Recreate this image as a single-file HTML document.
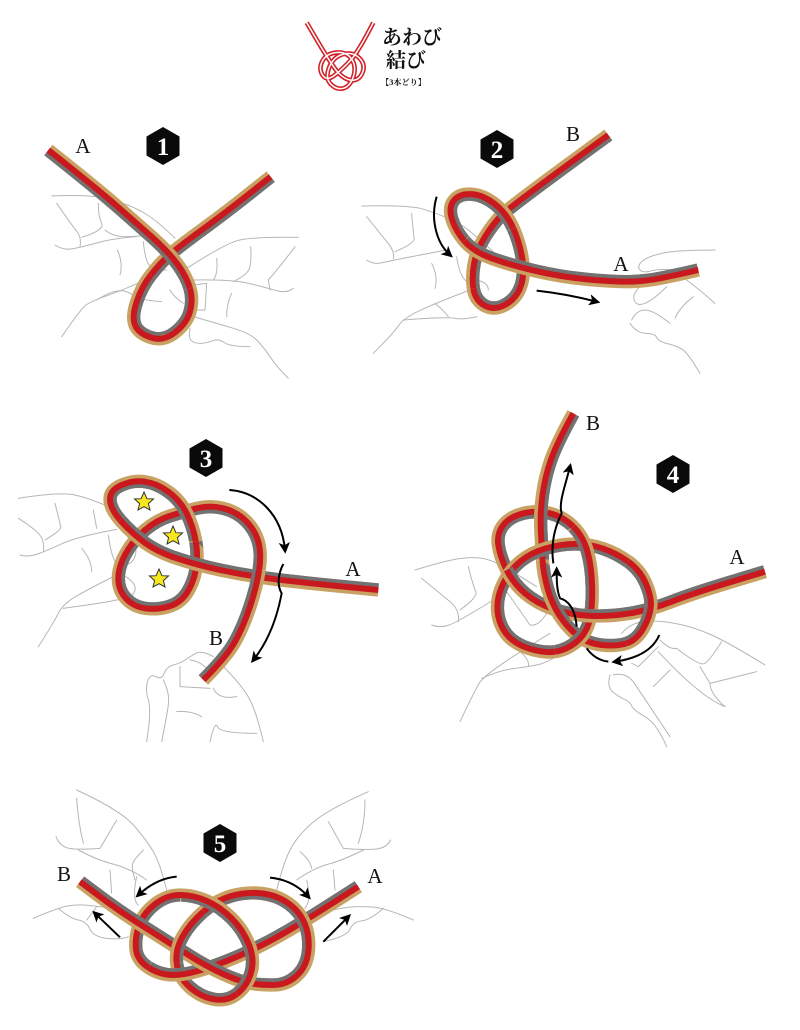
<!DOCTYPE html>
<html lang="ja">
<head>
<meta charset="utf-8">
<title>あわび結び【3本どり】</title>
<style>
html,body{margin:0;padding:0;background:#fff;width:800px;height:1030px;overflow:hidden}
svg{display:block;filter:blur(.35px)}
text.l{font-family:"Liberation Serif","Noto Serif CJK SC",serif;font-size:21px;fill:#111;text-anchor:middle}
text.n{font-family:"Liberation Serif",serif;font-size:25px;font-weight:bold;fill:#fff;text-anchor:middle}
text.t{font-family:"Liberation Serif","Noto Serif CJK SC",serif;font-weight:700;fill:#111}
.au,.gy,.rd{fill:none}
.au{stroke:#c9a263;stroke-width:40}
.gy{stroke:#727272;stroke-width:40}
.rd{stroke:#c9191f;stroke-width:18}
.h path{fill:none;stroke:#b6b6b6;stroke-width:3;stroke-linejoin:round;stroke-linecap:round}
.ar path{fill:none;stroke:#000;stroke-width:6}
.ar path.m{marker-end:url(#ah)}
</style>
</head>
<body>
<svg xmlns="http://www.w3.org/2000/svg" width="800" height="1030" viewBox="0 0 800 1030">
<defs>
<marker id="ah" markerUnits="userSpaceOnUse" markerWidth="34" markerHeight="34" viewBox="0 0 12 12" refX="8" refY="6" orient="auto"><path d="M0,0 L12,6 L0,12 L3,6z" fill="#000"/></marker>
<polygon id="st" points="0,-10 2.9,-3.3 9.5,-3 4.4,1.6 6,8 0,4.7 -6,8 -4.4,1.6 -9.5,-3 -2.9,-3.3" fill="#f8e71c" stroke="#333" stroke-width="1"/>
<polygon id="hx" points="0,-19 16.5,-9.5 16.5,9.5 0,19 -16.5,9.5 -16.5,-9.5" fill="#0a0a0a"/>

<!-- figure 1 -->
<path id="a1" d="M480,505 Q490,540 480,575 T435,637.5 T362.5,652.5 T315,615 T320,545 T362.5,465"/>
<clipPath id="c1"><polygon points="480,505 480,575 435,637 362,652 315,615 320,545 362,465 420,470"/></clipPath>
<path id="a2" d="M362.5,465 Q390,430 415,407.5 T515,330 T656,222.5 L722,170"/>
<clipPath id="c2"><polygon points="362,465 415,407 515,330 656,222 722,170 772,230 432,530"/></clipPath>
<path id="a3" d="M55,90 Q200,205 260,257.5 T367.5,352.5 T442.5,432.5 T480,505"/>
<clipPath id="c3"><polygon points="55,90 260,257 367,352 442,432 480,505 420,530 15,140"/></clipPath>

<!-- figure 2 -->
<path id="b1" d="M745,45 Q450,260 425,285 T375,350 T342.5,430 T340,505"/>
<clipPath id="d1"><polygon points="745,45 425,285 375,350 342,430 340,505 400,520 560,290 790,100"/></clipPath>
<path id="b2" d="M340,505 Q345,540 372.5,556 T432.5,556 T480,505 T487.5,420 T460,325"/>
<clipPath id="d2"><polygon points="340,505 372,556 432,556 480,505 487,420 460,325 390,350 400,450"/></clipPath>
<path id="b3" d="M460,325 Q440,280 405,252.5 T335,222.5 T282.5,240 T275,295 T312.5,362.5"/>
<clipPath id="d3"><polygon points="460,325 405,252 335,222 282,240 275,295 312,362 375,305 400,350"/></clipPath>
<path id="b4" d="M312.5,362.5 Q340,395 395,415 T525,452.5 T675,477.5 T800,485 T900,475 T982.5,457.5 L1015,450"/>
<clipPath id="d4"><polygon points="312,362 395,415 525,452 675,477 800,485 900,475 982,457 1015,450 1000,400 350,320"/></clipPath>

<!-- figure 3 -->
<path id="e1" d="M580,720 Q650,650 675,605 T720,500 T747.5,390"/>
<clipPath id="f1"><polygon points="580,720 675,605 720,500 747,390 690,380 630,500 540,680"/></clipPath>
<path id="e2" d="M747.5,390 Q755,340 745,305 T707.5,242.5 T640,205 T560,205 T480,227.5 T405,270 T347.5,340 T325,415 T347.5,475 T405,505 T475,500 T530,460 T557.5,390 T557.5,305"/>
<clipPath id="f2"><polygon points="747,390 745,305 707,242 640,205 560,205 480,227 405,270 347,340 325,415 347,475 405,505 475,500 530,460 557,390 557,305 680,400"/></clipPath>
<path id="e3" d="M557.5,305 Q550,260 530,220 T475,155 T405,125 T335,135 T300,177.5 T330,240"/>
<clipPath id="f3"><polygon points="557,305 530,220 475,155 405,125 335,135 300,177 330,240 400,240 490,300"/></clipPath>
<path id="e4" d="M330,240 Q360,275 400,305 T500,355 T630,390 T775,415 T977.5,437.5 L1105,450"/>
<clipPath id="f4"><polygon points="330,240 400,305 500,355 630,390 775,415 977,437 1105,450 1110,400 370,200"/></clipPath>

<!-- figure 4 -->
<path id="g1" d="M490,380 Q460,350 420,340 T340,340 T280,375 T265,435 T290,510"/>
<clipPath id="k1"><polygon points="490,380 420,340 340,340 280,375 265,435 290,510 350,480 420,420"/></clipPath>
<path id="g2" d="M490,40 Q440,130 422.5,180 T397.5,285 T392.5,390 T397.5,480"/>
<clipPath id="k2"><polygon points="490,40 422,180 397,285 392,390 397,480 450,480 460,290 530,60"/></clipPath>
<path id="g3" d="M655,485 Q620,460 580,446 T495,432 T405,446 T330,485 T280,550 T262.5,630 T287.5,700 T355,745 T435,755"/>
<clipPath id="k3"><polygon points="655,485 580,446 495,432 405,446 330,485 280,550 262,630 287,700 355,745 435,755 440,690 500,560 620,530"/></clipPath>
<path id="g4" d="M290,510 Q310,550 345,580 T430,627.5 Q455,636 482.5,641"/>
<clipPath id="k4"><polygon points="290,510 345,580 430,627 482,641 495,590 340,480"/></clipPath>
<path id="g5" d="M397.5,480 Q400,520 412.5,565 T447.5,645 T500,705 T575,735 T650,730"/>
<clipPath id="k5"><polygon points="397,480 412,565 447,645 500,705 575,735 650,730 640,640 480,540"/></clipPath>
<path id="g6" d="M435,755 Q470,750 500,725 T539,660 T546.5,560 T532.5,455 T490,380"/>
<clipPath id="k6"><polygon points="435,755 500,725 539,660 546,560 532,455 490,380 440,420 480,560 430,700"/></clipPath>
<path id="g7" d="M482.5,641 Q511,646.4 540,647.5 Q600,650 660,640 T785,605 T957.5,547.5 L1065,515"/>
<clipPath id="k7"><polygon points="482,641 540,647 660,640 785,605 957,547 1065,515 1050,470 480,590"/></clipPath>
<path id="g8" d="M650,730 Q680,720 700,685 T722.5,620 T707.5,550 T655,485"/>
<clipPath id="k8"><polygon points="650,730 700,685 722,620 707,550 655,485 600,530 590,680"/></clipPath>

<!-- figure 5 -->
<path id="p1" d="M650,642.5 Q620,665 580,657.5 T507.5,620 T470,550"/>
<clipPath id="q1"><polygon points="650,642 580,657 507,620 470,550 530,540 640,580"/></clipPath>
<path id="p2" d="M1015,320 Q860,420 800,455 T680,517.5 T560,565 T460,585 T385,562.5"/>
<clipPath id="q2"><polygon points="1015,320 800,455 680,517 560,565 460,585 385,562 400,500 800,400 980,270"/></clipPath>
<path id="p3" d="M385,562.5 Q350,540 347.5,505 T357.5,435 T405,372.5 T480,345"/>
<clipPath id="q3"><polygon points="385,562 347,505 357,435 405,372 480,345 480,420 420,500"/></clipPath>
<path id="p4" d="M550,395 Q590,360 635,347.5 T725,340 T805,370 T855,432.5 T865,515 T830,587.5 T760,615 T690,610"/>
<clipPath id="q4"><polygon points="550,395 635,347 725,340 805,370 855,432 865,515 830,587 760,615 690,610 700,540 600,450"/></clipPath>
<path id="p5" d="M690,610 Q660,605 610,582.5 T505,525 T375,442.5 T240,350 L180,305"/>
<clipPath id="q5"><polygon points="690,610 610,582 505,525 375,442 240,350 180,305 220,260 700,560"/></clipPath>
<path id="p6" d="M470,550 Q465,510 487.5,470 T550,395"/>
<clipPath id="q6"><polygon points="470,550 487,470 550,395 590,430 530,540"/></clipPath>
<path id="p7" d="M480,345 Q520,345 560,362.5 T635,415 T687.5,495 T692.5,580 T650,642.5"/>
<clipPath id="q7"><polygon points="480,345 560,362 635,415 687,495 692,580 650,642 590,590 500,420"/></clipPath>
</defs>

<!-- logo -->
<g transform="translate(290 10) scale(.33333)" fill="none">
<path stroke="#d2232a" stroke-width="14" d="M250,38 Q205,125 182.5,150 T135,195 T97.5,195 T97.5,152.5 T140,127.5 T185,147.5 T190,200 T160,235 T122.5,222.5 T117.5,172.5 T160,132.5 T209,145 T216.5,190 T180,210 T132.5,172.5 T80,89 L50,38"/>
<path stroke="#fff" stroke-width="4.5" d="M250,38 Q205,125 182.5,150 T135,195 T97.5,195 T97.5,152.5 T140,127.5 T185,147.5 T190,200 T160,235 T122.5,222.5 T117.5,172.5 T160,132.5 T209,145 T216.5,190 T180,210 T132.5,172.5 T80,89 L50,38"/>
</g>

<!-- 1 -->
<g transform="translate(30 120) scale(.33333)">
<g class="h">
<path d="M65,228 Q190,222 245,238.5 T340,277.5 T435,355"/>
<path d="M80,250 Q125,315 140,333.5 T150,380"/>
<path d="M205,250 Q205,290 215,310 T155,352"/>
<path d="M225,330 Q250,350 285,350 T350,345"/>
<path d="M75,375 Q100,392 130,386 T205,367.5 T320,350"/>
<path d="M340,365 Q345,420 357.5,435 T410,450"/>
<path d="M262,390 Q280,430 270,465"/>
<path d="M95,650 Q150,570 165,557.5 T230,527.5 T345,480"/>
<path d="M200,540 Q240,515 265,512.5 T307.5,525 T395,545"/>
<path d="M420,510 Q430,530 460,550"/>
<path d="M805,352 Q660,350 620,362.5 T470,445"/>
<path d="M795,380 Q750,440 715,480"/>
<path d="M662,380 Q665,430 657.5,447.5 T610,485"/>
<path d="M560,415 Q565,460 550,480"/>
<path d="M490,480 Q610,478 662.5,491.5 T742.5,512.5 T790,505"/>
<path d="M715,480 L720,510"/>
<path d="M490,495 L530,490 L525,570 L490,570"/>
<path d="M605,520 Q590,550 590,590"/>
<path d="M490,590 Q560,610 610,625 T680,660 T720,710 T775,775"/>
<path d="M480,625 Q475,650 482.5,660 T510,670 T547.5,662.5 T582.5,667.5 T660,680"/>
</g>
<use href="#a1" class="au"/><use href="#a1" class="gy" clip-path="url(#c1)"/><use href="#a1" class="rd"/>
<use href="#a2" class="au"/><use href="#a2" class="gy" clip-path="url(#c2)"/><use href="#a2" class="rd"/>
<use href="#a3" class="au"/><use href="#a3" class="gy" clip-path="url(#c3)"/><use href="#a3" class="rd"/>
</g>

<!-- 2 -->
<g transform="translate(360 120) scale(.33333)">
<g class="h">
<path d="M5,258 Q150,255 190,267.5 T265,295 T325,330 T405,400"/>
<path d="M20,290 Q60,340 82.5,367.5 T100,415"/>
<path d="M155,280 Q160,340 162.5,355 T105,395"/>
<path d="M20,420 Q40,435 70,427.5 T260,390"/>
<path d="M215,430 Q235,470 225,505"/>
<path d="M290,410 Q300,480 330,490"/>
<path d="M40,700 Q100,640 115,617.5 T177.5,572.5 T330,510"/>
<path d="M130,600 Q260,590 285,595 T350,590"/>
<path d="M225,550 Q250,570 265,590"/>
<path d="M345,480 Q385,485 385,510"/>
<path d="M1065,390 Q950,390 905,400 T845,425 T840,450 T875,452.5 T960,450"/>
<path d="M850,490 Q815,520 822.5,540 T855,550 T920,500"/>
<path d="M1065,550 Q1020,510 980,480"/>
<path d="M1000,530 Q960,560 945,595"/>
<path d="M815,600 Q830,570 855,570 T930,610"/>
<path d="M810,610 Q830,640 857.5,640 T890,652.5 T927.5,672.5 T975,695 T1020,760"/>
</g>
<use href="#b1" class="au"/><use href="#b1" class="gy" clip-path="url(#d1)"/><use href="#b1" class="rd"/>
<use href="#b2" class="au"/><use href="#b2" class="gy" clip-path="url(#d2)"/><use href="#b2" class="rd"/>
<use href="#b3" class="au"/><use href="#b3" class="gy" clip-path="url(#d3)"/><use href="#b3" class="rd"/>
<use href="#b4" class="au"/><use href="#b4" class="gy" clip-path="url(#d4)"/><use href="#b4" class="rd"/>
<g class="ar">
<path class="m" d="M230,230 C212,290 225,365 270,405"/>
<path class="m" d="M530,512 Q620,522 710,545"/>
</g>
</g>

<!-- 3 -->
<g transform="translate(10 440) scale(.33333)">
<g class="h">
<path d="M25,175 Q150,155 195,165 T320,210"/>
<path d="M25,235 Q65,260 85,280 T100,335"/>
<path d="M135,190 Q150,250 152.5,260 T105,300"/>
<path d="M30,345 Q50,352 77.5,343.5 T152.5,312.5 T320,268"/>
<path d="M250,210 L260,265"/>
<path d="M295,285 Q305,360 322.5,372.5 T362.5,367.5 T375,300"/>
<path d="M215,325 Q245,360 245,395"/>
<path d="M85,620 Q130,550 145,520 T205,465 T320,405"/>
<path d="M160,505 Q270,490 295,485 T345,475 T375,450 T340,405"/>
<path d="M410,905 Q425,810 415,780 T412.5,725 T437.5,710 T462.5,700 T490,675 T525,660 T557.5,640 T610,650"/>
<path d="M510,680 L510,740 L600,745"/>
<path d="M460,720 Q480,760 475,795 T455,905"/>
<path d="M610,745 Q625,780 680,770"/>
<path d="M640,680 Q700,740 720,780 T760,905"/>
<path d="M500,815 Q540,810 575,830"/>
<path d="M600,905 Q615,840 622.5,860 T740,880"/>
<path d="M540,660 Q580,665 600,700"/>
</g>
<use href="#e2" class="au"/><use href="#e2" class="gy" clip-path="url(#f2)"/><use href="#e2" class="rd"/>
<use href="#e3" class="au"/><use href="#e3" class="gy" clip-path="url(#f3)"/><use href="#e3" class="rd"/>
<use href="#e4" class="au"/><use href="#e4" class="gy" clip-path="url(#f4)"/><use href="#e4" class="rd"/>
<use href="#e1" class="au"/><use href="#e1" class="gy" clip-path="url(#f1)"/><use href="#e1" class="rd"/>
<g class="ar">
<path class="m" d="M658,150 C740,155 815,220 825,330"/>
<path class="m" d="M820,372 C805,400 800,435 815,460 C800,540 770,610 730,660"/>
</g>
</g>

<!-- 4 -->
<g transform="translate(410 400) scale(.33333)">
<g class="h">
<path d="M15,510 Q110,480 155,475 T227.5,477.5 T277.5,497.5 T380,560"/>
<path d="M35,535 Q90,580 120,605 T145,665"/>
<path d="M175,500 Q190,560 197.5,575 T150,630"/>
<path d="M65,675 Q90,685 117.5,675 T250,600"/>
<path d="M290,575 L360,675 Q385,680 410,640"/>
<path d="M150,965 Q195,870 207.5,850 T275,792.5 T420,700"/>
<path d="M215,835 Q270,810 315,805 T390,792.5 T490,735"/>
<path d="M330,755 Q360,780 355,800"/>
<path d="M1065,795 Q960,730 905,705 T795,670 T700,665 T635,700"/>
<path d="M750,720 Q780,750 800,745"/>
<path d="M665,790 L685,800 L745,740"/>
<path d="M935,725 Q900,780 885,790 T800,745"/>
<path d="M870,800 L900,850 L1040,815"/>
<path d="M900,850 Q900,880 945,920"/>
<path d="M780,810 L730,860"/>
<path d="M745,755 Q870,890 945,920"/>
<path d="M600,825 Q590,860 607.5,875 T642.5,897.5 T665,917.5 T705,950 T770,1040"/>
<path d="M610,825 Q650,815 675,852.5 T780,1010"/>
</g>
<use href="#g1" class="au"/><use href="#g1" class="gy" clip-path="url(#k1)"/><use href="#g1" class="rd"/>
<use href="#g2" class="au"/><use href="#g2" class="gy" clip-path="url(#k2)"/><use href="#g2" class="rd"/>
<use href="#g3" class="au"/><use href="#g3" class="gy" clip-path="url(#k3)"/><use href="#g3" class="rd"/>
<use href="#g4" class="au"/><use href="#g4" class="gy" clip-path="url(#k4)"/><use href="#g4" class="rd"/>
<use href="#g5" class="au"/><use href="#g5" class="gy" clip-path="url(#k5)"/><use href="#g5" class="rd"/>
<use href="#g6" class="au"/><use href="#g6" class="gy" clip-path="url(#k6)"/><use href="#g6" class="rd"/>
<use href="#g7" class="au"/><use href="#g7" class="gy" clip-path="url(#k7)"/><use href="#g7" class="rd"/>
<use href="#g8" class="au"/><use href="#g8" class="gy" clip-path="url(#k8)"/><use href="#g8" class="rd"/>
<g class="ar">
<path class="m" d="M430,490 C420,420 440,370 455,340 C445,310 465,260 480,200"/>
<path class="m" d="M500,680 C495,620 470,600 450,595 C440,570 440,540 440,510"/>
<path d="M530,745 Q555,780 595,785"/>
<path class="m" d="M748,705 Q720,770 615,785"/>
</g>
</g>

<!-- 5 -->
<g transform="translate(20 780) scale(.33333)">
<g class="h">
<path d="M170,30 Q300,90 340,135 T400,215 T440,330"/>
<path d="M170,55 Q175,130 190,190"/>
<path d="M108,170 Q120,200 147.5,205 T240,205 L290,120"/>
<path d="M175,210 Q230,240 280,252.5 T380,300"/>
<path d="M370,210 Q340,240 337.5,252.5 T345,300"/>
<path d="M270,270 L275,340"/>
<path d="M350,290 Q335,360 355,375"/>
<path d="M40,415 Q110,385 140,378.5 T205,376 T330,390"/>
<path d="M115,385 Q150,415 175,420 T210,447.5 T260,475 T325,470"/>
<path d="M230,380 L200,420"/>
<path d="M1045,35 Q920,90 875,130 T810,210 T770,330"/>
<path d="M1035,60 Q1035,130 1015,190"/>
<path d="M1112,180 Q1100,205 1065,207.5 T970,205 L925,125"/>
<path d="M1030,210 Q970,240 925,252.5 T830,300"/>
<path d="M840,215 Q870,240 875,265"/>
<path d="M940,270 L945,330"/>
<path d="M860,300 Q875,360 855,385"/>
<path d="M1180,420 Q1100,385 1060,381.5 T990,381.5 T890,400"/>
<path d="M1090,385 Q1050,420 1025,422.5 T990,447.5 T910,485"/>
</g>
<use href="#p1" class="au"/><use href="#p1" class="gy" clip-path="url(#q1)"/><use href="#p1" class="rd"/>
<use href="#p2" class="au"/><use href="#p2" class="gy" clip-path="url(#q2)"/><use href="#p2" class="rd"/>
<use href="#p3" class="au"/><use href="#p3" class="gy" clip-path="url(#q3)"/><use href="#p3" class="rd"/>
<use href="#p4" class="au"/><use href="#p4" class="gy" clip-path="url(#q4)"/><use href="#p4" class="rd"/>
<use href="#p5" class="au"/><use href="#p5" class="gy" clip-path="url(#q5)"/><use href="#p5" class="rd"/>
<use href="#p6" class="au"/><use href="#p6" class="gy" clip-path="url(#q6)"/><use href="#p6" class="rd"/>
<use href="#p7" class="au"/><use href="#p7" class="gy" clip-path="url(#q7)"/><use href="#p7" class="rd"/>
<g class="ar">
<path class="m" d="M470,290 Q410,295 355,345"/>
<path class="m" d="M300,472 L225,400"/>
<path class="m" d="M750,293 Q820,300 865,350"/>
<path class="m" d="M910,485 L985,410"/>
</g>
</g>

<!-- labels -->
<use href="#st" x="144" y="502"/><use href="#st" x="173" y="536"/><use href="#st" x="159" y="579"/>
<use href="#hx" x="163" y="146"/><text class="n" x="163" y="155">1</text>
<use href="#hx" x="497" y="149"/><text class="n" x="497" y="158">2</text>
<use href="#hx" x="206" y="458"/><text class="n" x="206" y="467">3</text>
<use href="#hx" x="673" y="474"/><text class="n" x="673" y="483">4</text>
<use href="#hx" x="220" y="843"/><text class="n" x="220" y="852">5</text>
<text class="l" x="83" y="153">A</text>
<text class="l" x="573" y="141">B</text>
<text class="l" x="621" y="271">A</text>
<text class="l" x="353" y="576">A</text>
<text class="l" x="216" y="645">B</text>
<text class="l" x="593" y="430">B</text>
<text class="l" x="737" y="564">A</text>
<text class="l" x="64" y="881">B</text>
<text class="l" x="375" y="883">A</text>
<text class="t" x="382" y="44" font-size="20">あわび</text>
<text class="t" x="386" y="67" font-size="20">結び</text>
<text class="t" x="381" y="85" font-size="8.2">【3本どり】</text>
</svg>
</body>
</html>
